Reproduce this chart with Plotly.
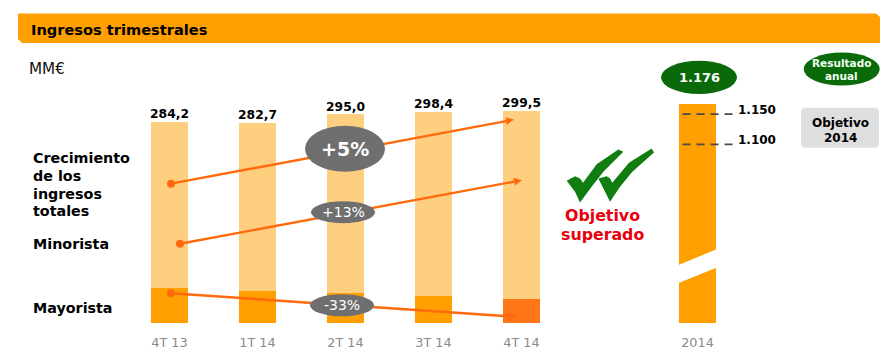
import math
import plotly.graph_objects as go

# ---- data ----
quarters = ["4T 13", "1T 14", "2T 14", "3T 14", "4T 14"]
total_labels = ["284,2", "282,7", "295,0", "298,4", "299,5"]
totals = [284.2, 282.7, 295.0, 298.4, 299.5]
mayorista = [49.1, 44.9, 42.0, 37.8, 33.5]
minorista = [235.1, 237.8, 253.0, 260.6, 266.0]
year_label = "2014"
year_value = [1176]
targets = [1150, 1100]
target_labels = ["1.150", "1.100"]

# ---- styles ----
LIGHT = "#FFCF80"
ORANGE = "#FF9F00"
DEEP = "#FF7518"
ARROW = "#FF6A0D"
GREY = "#6F6F6F"
GREEN = "#0A6A0A"
CHECK = "#0F7D0F"
FONT = "DejaVu Sans"
W, H = 887, 358
AXIS_Y = 322.7
bar_w = 0.42

xpos = list(range(len(quarters)))
year_x = 6

def px(x):
    return x / W

def py(y):
    return 1 - y / AXIS_Y

fig = go.Figure()
fig.add_bar(x=xpos, y=mayorista, width=bar_w,
            marker=dict(color=[ORANGE] * 4 + [DEEP], line_width=0), showlegend=False)
fig.add_bar(x=xpos, y=minorista, width=bar_w,
            marker=dict(color=LIGHT, line_width=0), showlegend=False)
fig.add_scatter(x=xpos, y=[t + 1 for t in totals], mode="text", text=["<b>%s</b>" % t for t in total_labels],
                textposition="top center",
                textfont=dict(family=FONT, size=12.3, color="#000"), showlegend=False)
fig.add_bar(x=[year_x], y=year_value, width=bar_w, yaxis="y2",
            marker=dict(color=ORANGE, line_width=0), showlegend=False)
for v, lab in zip(targets, target_labels):
    fig.add_scatter(x=[year_x - 0.17, year_x + 0.42], y=[v, v], yaxis="y3", mode="lines",
                    line=dict(color="#4A4A4A", width=1.8, dash="8px,6px"), showlegend=False)
    fig.add_scatter(x=[year_x + 0.46], y=[v + 5], yaxis="y3", mode="text",
                    text=["<b>%s</b>" % lab], textposition="middle right",
                    textfont=dict(family=FONT, size=12, color="#000"), showlegend=False)

shapes = []

def poly(points, color):
    d = "M" + " L".join("%.4f,%.4f" % (px(a), py(b)) for a, b in points) + " Z"
    shapes.append(dict(type="path", path=d, xref="paper", yref="paper",
                       fillcolor=color, line_width=0, layer="above"))

def ellipse(cx, cy, rx, ry, color):
    shapes.append(dict(type="circle", xref="paper", yref="paper",
                       x0=px(cx - rx), x1=px(cx + rx), y0=py(cy + ry), y1=py(cy - ry),
                       fillcolor=color, line_width=0, layer="above"))

def arrow(x0, y0, x1, y1):
    ang = math.atan2(y1 - y0, x1 - x0)
    bx, by = x1 - 8 * math.cos(ang), y1 - 8 * math.sin(ang)
    shapes.append(dict(type="line", xref="paper", yref="paper",
                       x0=px(x0), y0=py(y0), x1=px(bx), y1=py(by),
                       line=dict(color=ARROW, width=2.4), layer="above"))
    nx, ny = -math.sin(ang), math.cos(ang)
    poly([(x1, y1), (bx + 4 * nx, by + 4 * ny), (bx - 4 * nx, by - 4 * ny)], ARROW)
    ellipse(x0, y0, 4, 4, ARROW)

# header band with chamfered corners
poly([(18, 13.5), (876, 13.5), (880, 17), (880, 43), (22, 43), (18, 39)], ORANGE)

# growth arrows, then the ovals that sit on them
arrow(171, 183.5, 514, 119.5)
arrow(180, 243.5, 522, 180)
arrow(171, 293, 516, 316.5)
ellipse(345, 148.7, 40, 23, GREY)
ellipse(343, 212, 32, 11, GREY)
ellipse(342, 305, 32, 11, GREY)

# axis break on the 2014 bar
poly([(678, 265), (716, 249.3), (717, 267.3), (678, 283)], "#FFFFFF")

# green ovals and target box
ellipse(699, 77.3, 38, 16.5, GREEN)
ellipse(841.7, 69, 38, 16.5, GREEN)
shapes.append(dict(type="path", xref="paper", yref="paper", fillcolor="#DEDEDE", line_width=0,
                   layer="above",
                   path="M%f,%f L%f,%f Q%f,%f %f,%f L%f,%f Q%f,%f %f,%f L%f,%f Q%f,%f %f,%f L%f,%f Q%f,%f %f,%f Z" % (
                       px(806), py(107.7), px(874), py(107.7), px(879), py(107.7), px(879), py(112.7),
                       px(879), py(142.7), px(879), py(147.7), px(874), py(147.7),
                       px(806), py(147.7), px(801), py(147.7), px(801), py(142.7),
                       px(801), py(112.7), px(801), py(107.7), px(806), py(107.7))))

# double tick
def zoomed(points):
    return [(555 + a / 3, 140 + b / 3) for a, b in points]

poly(zoomed([(35, 122), (60, 108), (75, 115), (84, 128), (125, 72), (190, 28), (205, 35),
             (145, 95), (110, 140), (75, 187), (60, 155)]), CHECK)
poly(zoomed([(130, 115), (155, 108), (165, 115), (172, 128), (222, 68), (290, 25), (297, 37),
             (232, 95), (195, 140), (165, 185), (148, 150)]), CHECK)

def text(x, y, s, size, color="#000", bold=True, anchor="left", family=FONT):
    fig.add_annotation(xref="paper", yref="paper", x=px(x), y=py(y), text="<b>%s</b>" % s if bold else s,
                       showarrow=False, xanchor=anchor, yanchor="middle",
                       font=dict(family=family, size=size, color=color))

text(29, 29, "Ingresos trimestrales", 14.6)
text(27, 69, "MM€", 15.2, "#111", bold=False)
for y, s in zip([157.5, 175.5, 193.5, 211], ["Crecimiento", "de los", "ingresos", "totales"]):
    text(31, y, s, 14.3)
text(31, 244, "Minorista", 14.3)
text(31, 308, "Mayorista", 14.3)
text(345, 149, "+5%", 19, "#fff", anchor="center")
text(343, 212, "+13%", 14, "#fff", bold=False, anchor="center")
text(342, 305, "-33%", 14, "#fff", bold=False, anchor="center")
text(699, 77.5, "1.176", 13, "#fff", anchor="center")
text(841.7, 63, "Resultado", 10.5, "#EFFFEF", anchor="center")
text(841.7, 76, "anual", 10.5, "#EFFFEF", anchor="center")
text(840, 122.5, "Objetivo", 12, anchor="center")
text(840, 137.5, "2014", 12, anchor="center")
text(602.5, 215.5, "Objetivo", 15.8, "#E8000D", anchor="center")
text(602.5, 234.5, "superado", 15.8, "#E8000D", anchor="center")

fig.update_layout(
    width=W, height=H, autosize=False, barmode="stack", bargap=0,
    margin=dict(l=0, r=0, t=0, b=H - AXIS_Y, autoexpand=False),
    paper_bgcolor="#fff", plot_bgcolor="#fff", shapes=shapes,
    xaxis=dict(range=[-169.5 / 88, (W - 169.5) / 88], showgrid=False, zeroline=False,
               tickmode="array", tickvals=xpos + [year_x], ticktext=quarters + [year_label],
               ticks="", ticklabelstandoff=10, showline=False,
               tickfont=dict(family=FONT, size=12.8, color="#8A8A8A")),
    yaxis=dict(range=[0, AXIS_Y / 0.7065], visible=False),
    yaxis2=dict(range=[0, 1176 * AXIS_Y / 218.7], overlaying="y", visible=False),
    yaxis3=dict(range=[1150 - (AXIS_Y - 114) / 0.606, 1150 + 114 / 0.606], overlaying="y", visible=False),
)
fig.write_html("out.html", config={"displayModeBar": False},
               post_script="document.body.style.margin='0';document.documentElement.style.overflow='hidden';")
